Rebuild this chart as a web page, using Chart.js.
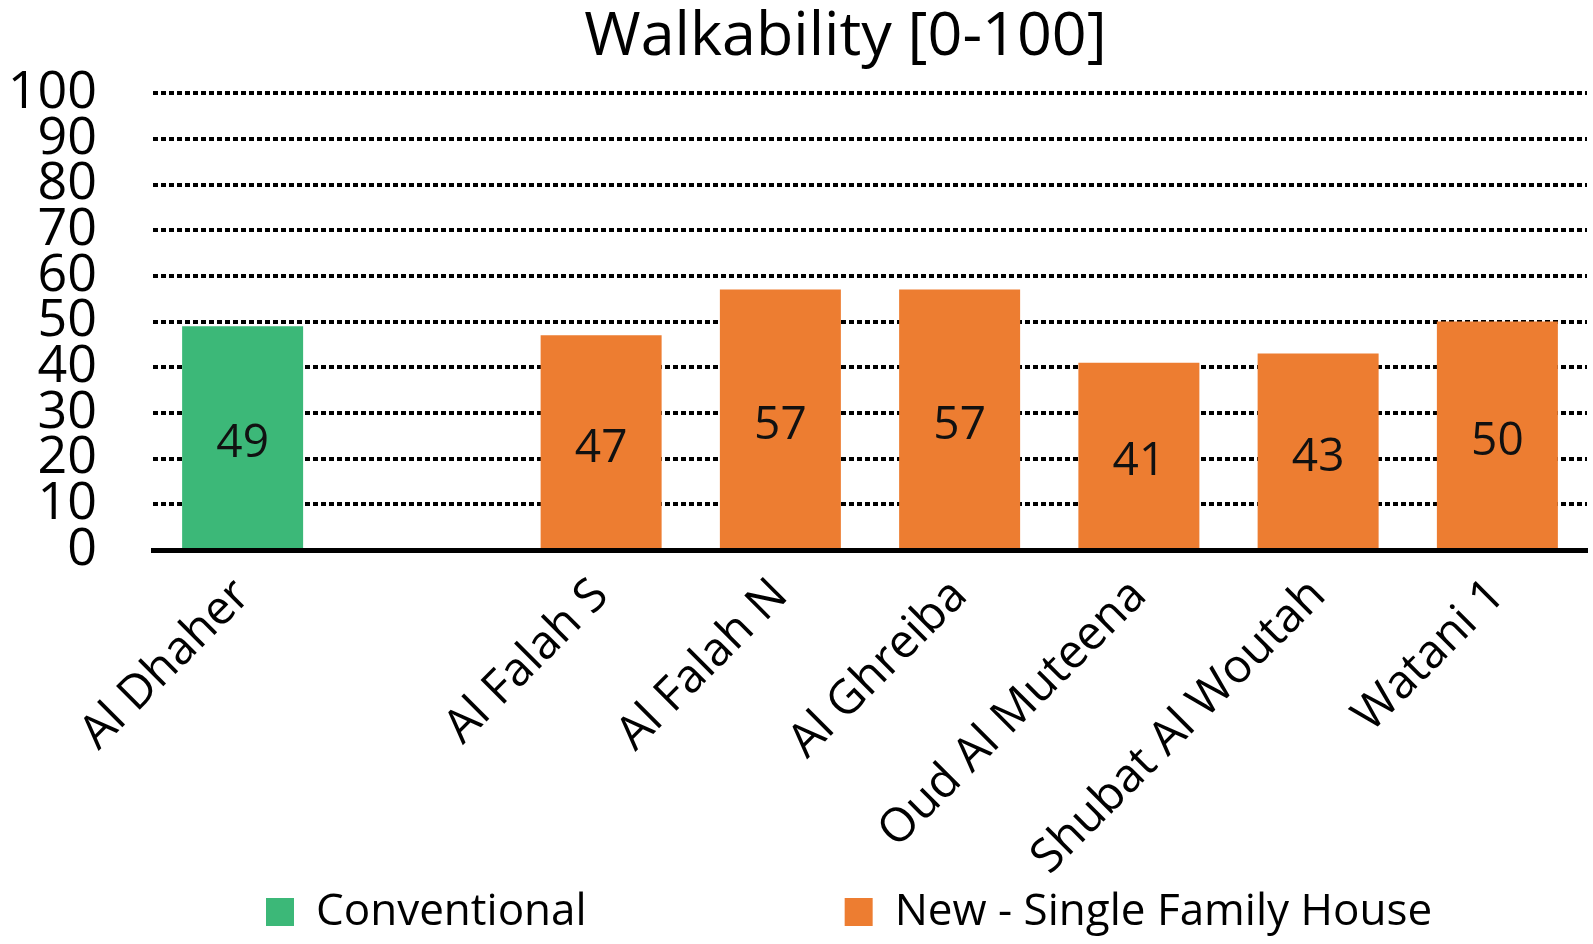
<!DOCTYPE html>
<html>
<head>
<meta charset="utf-8">
<title>Walkability</title>
<script src="https://cdn.jsdelivr.net/npm/chart.js@4/dist/chart.umd.min.js"></script>
<style>
    html, body { margin: 0; padding: 0; background: #ffffff; }
    #wrap { width: 1593px; height: 944px; }
</style>
</head>
<body>
<div id="wrap"><canvas id="myChart" width="1593" height="944"></canvas></div>
<script>
// data
const categories = ['Al Dhaher', '', 'Al Falah S', 'Al Falah N', 'Al Ghreiba', 'Oud Al Muteena', 'Shubat Al Woutah', 'Watani 1'];
const conventional = [49, null, null, null, null, null, null, null];
const newSingleFamily = [null, null, 47, 57, 57, 41, 43, 50];
const yTicks = [0, 10, 20, 30, 40, 50, 60, 70, 80, 90, 100];

const FONT = "'Open Sans', 'Noto Sans', sans-serif";

// writes the value in the middle of each bar
const barValues = {
    id: 'barValues',
    afterDatasetsDraw(chart) {
        const ctx = chart.ctx;
        ctx.save();
        ctx.font = '46px ' + FONT;
        ctx.fillStyle = '#111111';
        ctx.textAlign = 'center';
        ctx.textBaseline = 'middle';
        chart.data.datasets.forEach(function (ds, i) {
            const meta = chart.getDatasetMeta(i);
            meta.data.forEach(function (bar, j) {
                const v = ds.data[j];
                if (v === null) return;
                ctx.fillText(String(v), bar.x, (bar.y + bar.base) / 2 + 7);
            });
        });
        ctx.restore();
    }
};

// title and legend sit a bit right of where chart.js puts them
const shiftBlocks = {
    id: 'shiftBlocks',
    afterLayout(chart) {
        chart.legend.left = 248;
        chart.titleBlock.left += 104;
        // let the long rotated labels run past the axis box instead of being clipped
        chart.scales.x.bottom = chart.height;
    }
};

const ctx = document.getElementById('myChart').getContext('2d');
const myChart = new Chart(ctx, {
    type: 'bar',
    data: {
        labels: categories,
        datasets: [{
            label: 'Conventional',
            data: conventional,
            backgroundColor: '#3cb878',
            categoryPercentage: 1,
            barPercentage: 0.675
        }, {
            label: 'New - Single Family House',
            data: newSingleFamily,
            backgroundColor: '#ed7d31',
            categoryPercentage: 1,
            barPercentage: 0.675
        }]
    },
    options: {
        responsive: false,
        animation: false,
        layout: { padding: { left: 0, right: 6, top: 0, bottom: 0 } },
        plugins: {
            title: {
                display: true,
                text: 'Walkability [0-100]',
                color: '#000000',
                font: { family: FONT, size: 61, weight: 'normal' },
                padding: { top: 1, bottom: 19 }
            },
            legend: {
                position: 'bottom',
                align: 'start',
                labels: {
                    color: '#000000',
                    font: { family: FONT, size: 44 },
                    boxWidth: 28,
                    boxHeight: 28,
                    padding: 18,
                    generateLabels: function (chart) {
                        const items = Chart.defaults.plugins.legend.labels.generateLabels(chart);
                        // trailing spaces give the wide gap between the two entries
                        items[0].text = items[0].text + ' '.repeat(21);
                        return items;
                    }
                }
            },
            tooltip: { enabled: false }
        },
        scales: {
            x: {
                stacked: true,
                grid: { display: false },
                border: { display: true, color: '#000000', width: 5 },
                ticks: {
                    color: '#000000',
                    font: { family: FONT, size: 47 },
                    maxRotation: 45,
                    minRotation: 45,
                    padding: 10,
                    autoSkip: false
                },
                afterFit: function (s) { s.height = 322; }
            },
            y: {
                stacked: true,
                min: 0,
                max: 100,
                afterBuildTicks: function (s) { s.ticks = yTicks.map(function (v) { return { value: v }; }); },
                grid: {
                    color: '#000000',
                    lineWidth: 4,
                    drawTicks: false
                },
                border: { display: false, dash: [5, 3] },
                ticks: {
                    color: '#000000',
                    font: { family: FONT, size: 52 },
                    padding: 56,
                    autoSkip: false
                },
                afterFit: function (s) { s.width = 153; }
            }
        }
    },
    plugins: [barValues, shiftBlocks]
});
</script>
</body>
</html>
